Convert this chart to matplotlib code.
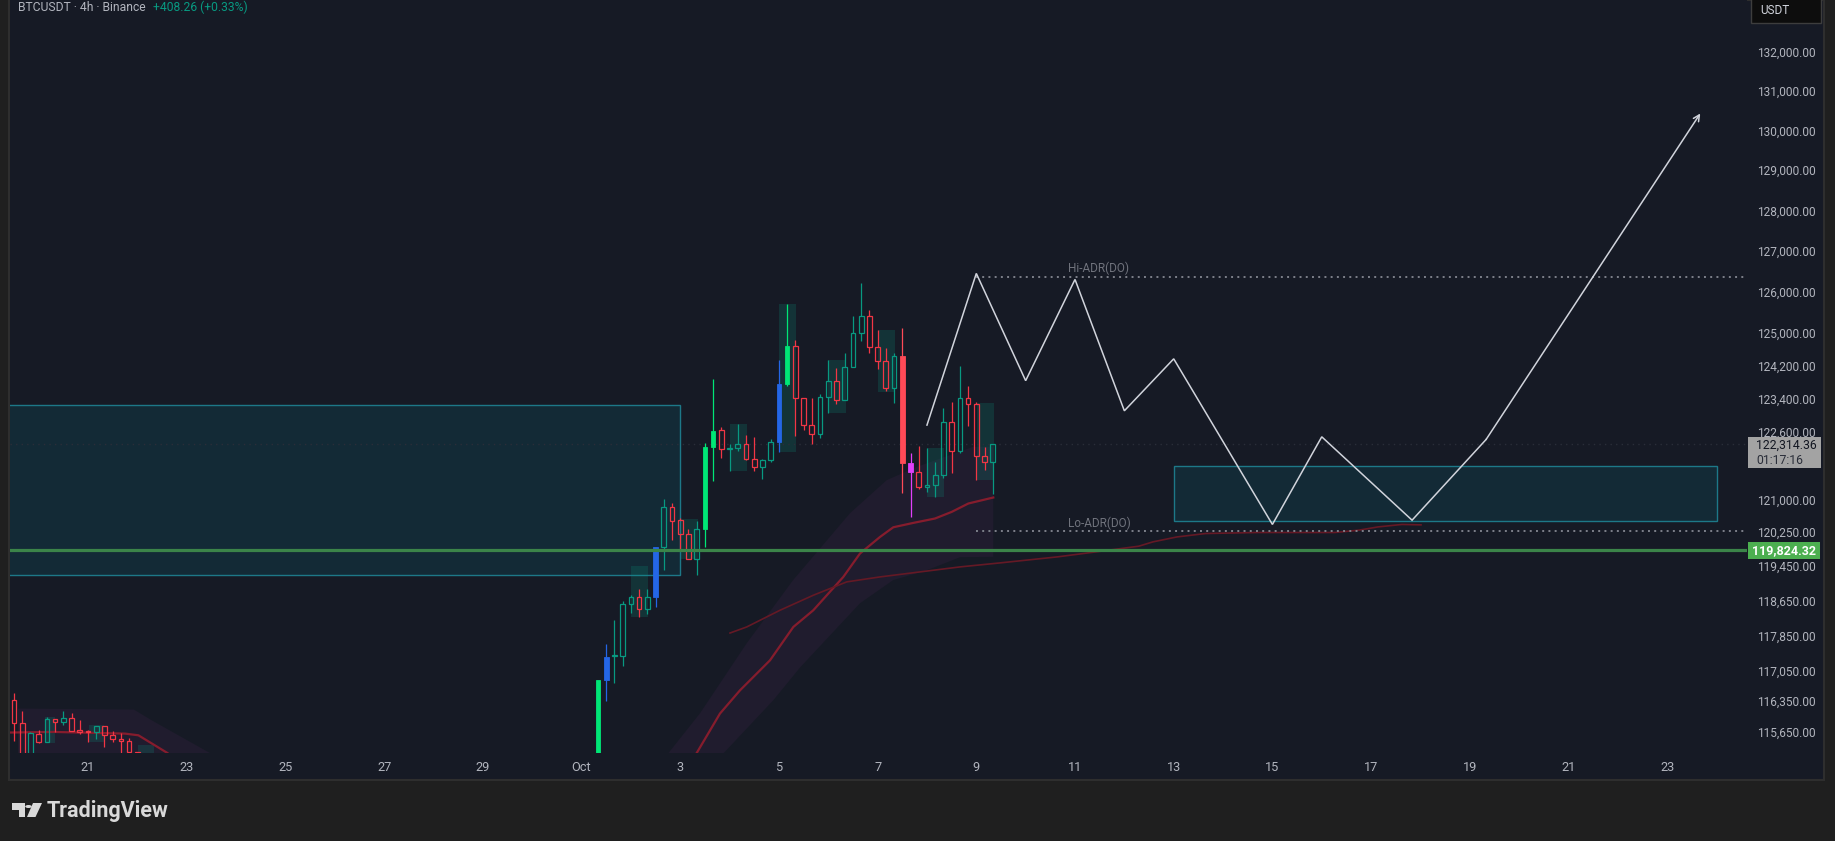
import numpy as np
import matplotlib
matplotlib.use('Agg')
import matplotlib.pyplot as plt
from matplotlib.patches import Rectangle, Polygon, Circle

plt.rcParams['font.family'] = ['Roboto', 'DejaVu Sans']

# ---------------- data (x = days since Sep 21 00:00, 4h bars) ----------------
date_ticks = [0, 2, 4, 6, 8, 10, 12, 14, 16, 18, 20, 22, 24, 26, 28, 30, 32]
date_labels = ['21', '23', '25', '27', '29', 'Oct', '3', '5', '7', '9', '11', '13', '15', '17', '19', '21', '23']
price_ticks = [132000, 131000, 130000, 129000, 128000, 127000, 126000, 125000, 124200, 123400,
               122600, 121000, 120250, 119450, 118650, 117850, 117050, 116350, 115650]

# left group of candles (starting Sep 19 12:00)
left_start = -1.5
left_open = [116385, 115865, 114900, 115615, 115430, 115955, 115885, 115975, 115690, 115680, 115650, 115795, 115595, 115505, 115460, 115210]
left_high = [116530, 116120, 115650, 115710, 115990, 115955, 116120, 116075, 115930, 115710, 115795, 115795, 115675, 115635, 115525, 115210]
left_low = [115450, 114800, 114800, 115410, 115430, 115650, 115805, 115675, 115615, 115430, 115495, 115320, 115430, 115030, 114900, 114800]
left_close = [115865, 114900, 115630, 115430, 115955, 115885, 115975, 115675, 115660, 115660, 115795, 115595, 115495, 115460, 115200, 114900]
left_style = ['h'] * 16

# right group of candles (starting Oct 1 08:00)
right_start = 10 + 2 / 6
right_open = [114600, 116820, 117370, 117380, 118580, 118720, 118460, 118740, 119880, 120815,
              120510, 120205, 119615, 120300, 122235, 122640, 122200, 122210, 122305, 121950,
              121760, 121935, 122360, 123745, 124665, 123415, 122760, 122545, 123440, 123815,
              123355, 124165, 124990, 125385, 124640, 124295, 123645, 124415, 121860, 121645,
              121300, 121355, 121570, 122850, 122160, 123420, 123270, 122025, 121880]
right_high = [116840, 117640, 118196, 118630, 118770, 118910, 118910, 119880, 121010, 120920,
              120560, 120305, 120495, 122330, 123865, 122720, 122305, 122790, 122525, 122475,
              121950, 122430, 124326, 125690, 124810, 123415, 123415, 123510, 124326, 124130,
              124490, 125390, 126200, 125535, 125060, 124615, 124490, 125110, 122100, 122260,
              122210, 121885, 123165, 123320, 124175, 123700, 123320, 122240, 122314]
right_low = [114500, 116360, 116760, 117150, 118360, 118270, 118330, 118500, 119350, 120050,
             119800, 119600, 119235, 119880, 121440, 121985, 121670, 122150, 121945, 121670,
             121480, 121880, 122130, 123700, 122510, 122640, 122305, 122450, 123060, 123280,
             123355, 124165, 124795, 124500, 124100, 123570, 123305, 121160, 120580, 121250,
             121180, 121060, 121515, 121630, 122105, 122750, 121465, 121700, 121140]
right_close = [116820, 117360, 117390, 118580, 118720, 118460, 118740, 119880, 120815, 120500,
               120205, 119615, 120300, 122235, 122630, 122200, 122220, 122305, 121950, 121760,
               121935, 122360, 123740, 124665, 123415, 122760, 122545, 123440, 123815, 123355,
               124165, 124990, 125385, 124640, 124295, 123645, 124415, 121860, 121645, 121300,
               121355, 121570, 122850, 122160, 123420, 123270, 122025, 121880, 122314]
right_style = ['h'] * 49
for i, s in [(0, 'g'), (1, 'b'), (7, 'b'), (13, 'g'), (14, 'g'), (22, 'b'), (23, 'g'), (37, 'r'), (38, 'm')]:
    right_style[i] = s

# shaded blocks (t0, t1, p_low, p_high)
block_t0 = [-0.879, 0.020, 1.003, 11.009, 12.010, 13.009, 14.002, 14.995, 16.008, 17.001, 18.014]
block_t1 = [-0.660, 0.324, 1.347, 11.348, 12.361, 13.354, 14.346, 15.360, 16.353, 17.345, 18.359]
block_lo = [115402, 115425, 114900, 118271, 119607, 121670, 122121, 123050, 123555, 121056, 121458]
block_hi = [115987, 115805, 115357, 119443, 120540, 122787, 125686, 124326, 125053, 122216, 123291]

# zones
zone1 = dict(t0=-2.0, t1=12.0, lo=119250, hi=123235)
zone2 = dict(t0=22.0, t1=33.0, lo=120509, hi=121782)

# fast average and its band
fast_left_t = [-1.585, -0.697, 0.750, 1.021, 1.609, 2.0]
fast_left_p = [115643, 115657, 115619, 115581, 115184, 114800]
fast_t = [12.1, 12.334, 12.806, 13.212, 13.820, 14.292, 14.697, 15.305, 15.643, 16.049, 16.318, 16.723, 17.163, 17.501, 17.838, 18.344]
fast_p = [114800, 115184, 116071, 116597, 117279, 118041, 118425, 119195, 119739, 120125, 120351, 120453, 120556, 120711, 120908, 121049]
band_left_t = [-1.42, 0.93, 1.29, 2.47, 2.7]
band_left_p = [116184, 116161, 115919, 115184, 114700]
band_up_t = [11.6, 11.753, 12.401, 13.347, 14.286, 15.441, 16.184, 16.792, 17.933, 18.344]
band_up_p = [114700, 115171, 116077, 117667, 119119, 120681, 121458, 121771, 122247, 122247]
band_lo_t = [18.344, 17.670, 17.001, 16.312, 15.643, 14.433, 13.886, 12.872, 12.6]
band_lo_p = [119661, 119653, 119350, 119119, 118586, 117120, 116371, 115171, 114700]

# slow average
slow_t = [13.009, 13.347, 14.022, 14.697, 15.374, 16.049, 16.859, 17.670, 18.480, 19.643, 20.419,
          21.293, 21.580, 22.067, 22.648, 23.708, 25.268, 25.753, 26.140, 26.626, 27.011]
slow_p = [117902, 118041, 118425, 118771, 119080, 119195, 119311, 119427, 119520, 119660, 119776,
          119909, 120010, 120125, 120205, 120229, 120229, 120283, 120359, 120417, 120407]

# projected path
zig_t = [17.0, 18.0, 19.0, 20.0, 21.0, 22.0, 24.0, 25.0, 26.83, 28.33, 32.67]
zig_p = [122765, 126439, 123830, 126291, 123107, 124357, 120417, 122486, 120517, 122422, 130431]

hi_adr = 126356
lo_adr = 120260
level = 119824.32
last_price = 122314.36

# ---------------- styling ----------------
BG = '#161a25'
UP = '#089981'
DN = '#f23645'
SOLID = {'g': '#00e676', 'b': '#2466e6', 'r': '#ff4a57', 'm': '#e040fb'}
TXT = '#b2b5be'

W, H = 1835, 841
fig = plt.figure(figsize=(W / 100, H / 100), dpi=100, facecolor='#1f1f1f')


def fx(x):
    return x / W


def fy(y):
    return 1 - y / H


fig.patches.append(Rectangle((fx(9), fy(780)), fx(1824) - fx(9), fy(0) - fy(780),
                             transform=fig.transFigure, facecolor=BG, edgecolor='#2e2e2e',
                             lw=1.5, zorder=-5))

ax = fig.add_axes([fx(10), fy(753), fx(1747) - fx(10), fy(0) - fy(753)])
ax.set_zorder(1)
ax.set_facecolor(BG)
ax.set_yscale('log')
ax.set_ylim(115184, 133341)
ax.set_xlim(-1.581, 33.617)
for s in ax.spines.values():
    s.set_visible(False)

ax.yaxis.tick_right()
ax.set_yticks(price_ticks)
ax.set_yticklabels([f'{p:,.2f}' for p in price_ticks])
ax.yaxis.set_minor_locator(matplotlib.ticker.NullLocator())
ax.tick_params(axis='y', which='both', length=0, pad=7.2, labelsize=8.6, colors=TXT)
ax.set_xticks(date_ticks)
ax.set_xticklabels(date_labels)
ax.tick_params(axis='x', length=0, pad=6, labelsize=9.2, colors=TXT)

# bands
ax.fill(band_left_t + [2.7, -1.42], band_left_p + [114000, 114000], color='#201c2e', zorder=1, lw=0)
ax.fill(band_up_t + band_lo_t, band_up_p + band_lo_p, color='#201c2e', zorder=1, lw=0)

# zones
for z in (zone1, zone2):
    ax.add_patch(Rectangle((z['t0'], z['lo']), z['t1'] - z['t0'], z['hi'] - z['lo'],
                           facecolor=(0, 188 / 255, 212 / 255, 0.10), edgecolor='#1d7888',
                           lw=1.0, zorder=1.5))

# blocks
for t0, t1, lo, hi in zip(block_t0, block_t1, block_lo, block_hi):
    ax.add_patch(Rectangle((t0, lo), t1 - t0, hi - lo, facecolor=UP, alpha=0.2, lw=0, zorder=2))

# averages
ax.plot(fast_left_t, fast_left_p, color='#861c2d', lw=1.6, zorder=2.5)
ax.plot(fast_t, fast_p, color='#861c2d', lw=1.6, zorder=2.5)
ax.plot(slow_t, slow_p, color='#651925', lw=1.2, zorder=2.5)

# horizontal lines
ax.axhline(last_price, color='#2a2e39', lw=1.0, ls=(0, (1, 3)), zorder=2)
ax.plot([18.0, 33.617], [hi_adr, hi_adr], color='#7d808a', lw=1.4, ls=(0, (1, 2.2)), zorder=3)
ax.plot([18.0, 33.617], [lo_adr, lo_adr], color='#7d808a', lw=1.4, ls=(0, (1, 2.2)), zorder=3)
ax.text(19.86, hi_adr * 1.0003, 'Hi-ADR(DO)', color='#6f727c', fontsize=8.5, va='bottom', ha='left', zorder=3)
ax.text(19.86, lo_adr * 1.0003, 'Lo-ADR(DO)', color='#6f727c', fontsize=8.5, va='bottom', ha='left', zorder=3)


# candles
def draw_candles(t0, O, Hh, L, C, styles):
    bw = 0.095
    for i, (o, h, l, c, s) in enumerate(zip(O, Hh, L, C, styles)):
        t = t0 + i / 6
        top, bot = max(o, c), min(o, c)
        if s == 'h':
            col = UP if c >= o else DN
        else:
            col = SOLID[s]
        ax.plot([t, t], [top, h], color=col, lw=0.9, zorder=4, solid_capstyle='butt')
        ax.plot([t, t], [l, bot], color=col, lw=0.9, zorder=4, solid_capstyle='butt')
        if s == 'h':
            ax.add_patch(Rectangle((t - bw / 2, bot), bw, max(top - bot, 1), facecolor='none',
                                   edgecolor=col, lw=0.9, zorder=4))
        else:
            ax.add_patch(Rectangle((t - bw / 2, bot), bw, max(top - bot, 1), facecolor=col,
                                   edgecolor=col, lw=0.6, zorder=4))


draw_candles(left_start, left_open, left_high, left_low, left_close, left_style)
draw_candles(right_start, right_open, right_high, right_low, right_close, right_style)

ax.axhline(level, color='#3b8449', lw=2.3, zorder=4.5)

# projected path
ax.plot(zig_t[:-1], zig_p[:-1], color='#d1d4dc', lw=1.1, zorder=5, solid_joinstyle='miter')
ax.annotate('', xy=(zig_t[-1], zig_p[-1]), xytext=(zig_t[-2], zig_p[-2]),
            arrowprops=dict(arrowstyle='->', color='#d1d4dc', lw=1.1, shrinkA=0, shrinkB=0,
                            mutation_scale=11), zorder=5)

# ---------------- overlays in pixel coords ----------------
def box(x0, y0, x1, y1, fc, ec='none', lw=0, z=10):
    fig.patches.append(Rectangle((fx(x0), fy(y1)), fx(x1) - fx(x0), fy(y0) - fy(y1),
                                 transform=fig.transFigure, facecolor=fc, edgecolor=ec, lw=lw, zorder=z))


box(1748, 542, 1820, 559, '#4caf50')
fig.text(fx(1784), fy(550.5), f'{level:,.2f}', color='white', fontsize=9, fontweight='bold',
         ha='center', va='center', zorder=11)
box(1748, 437, 1821, 468, '#a3a3a3')
fig.text(fx(1756), fy(445), f'{last_price:,.2f}', color='#131722', fontsize=8.8, ha='left', va='center', zorder=11)
fig.text(fx(1756), fy(460), '01:17:16', color='#2a2e39', fontsize=8.8, ha='left', va='center', zorder=11)
box(1751, -4, 1821, 23, '#0d0d0d', ec='#3d3d3d', lw=1)
fig.text(fx(1760), fy(10), 'USDT', color='#d1d4dc', fontsize=8.5, ha='left', va='center', zorder=11)

fig.text(fx(18), fy(7.5), 'BTCUSDT · 4h · Binance', color=TXT, fontsize=8.7, ha='left', va='center', zorder=11)
fig.text(fx(153), fy(7.5), '+408.26 (+0.33%)', color=UP, fontsize=8.7, ha='left', va='center', zorder=11)

# TradingView logo
LOGO = '#d9d9d9'
fig.patches.append(Polygon([(fx(12), fy(803)), (fx(25), fy(803)), (fx(25), fy(817)), (fx(18.5), fy(817)),
                            (fx(18.5), fy(810)), (fx(12), fy(810))], closed=True,
                           transform=fig.transFigure, facecolor=LOGO, edgecolor='none'))
fig.patches.append(Circle((fx(28.5), fy(806.5)), 3.3 / W, transform=fig.transFigure,
                          facecolor=LOGO, edgecolor='none'))
fig.patches.append(Polygon([(fx(33), fy(803)), (fx(42), fy(803)), (fx(35.5), fy(817)), (fx(27), fy(817))],
                           closed=True, transform=fig.transFigure, facecolor=LOGO, edgecolor='none'))
fig.text(fx(47), fy(811), 'TradingView', color=LOGO, fontsize=15.5, fontweight='bold',
         ha='left', va='center')

fig.savefig('out.png', dpi=100, facecolor=fig.get_facecolor())
